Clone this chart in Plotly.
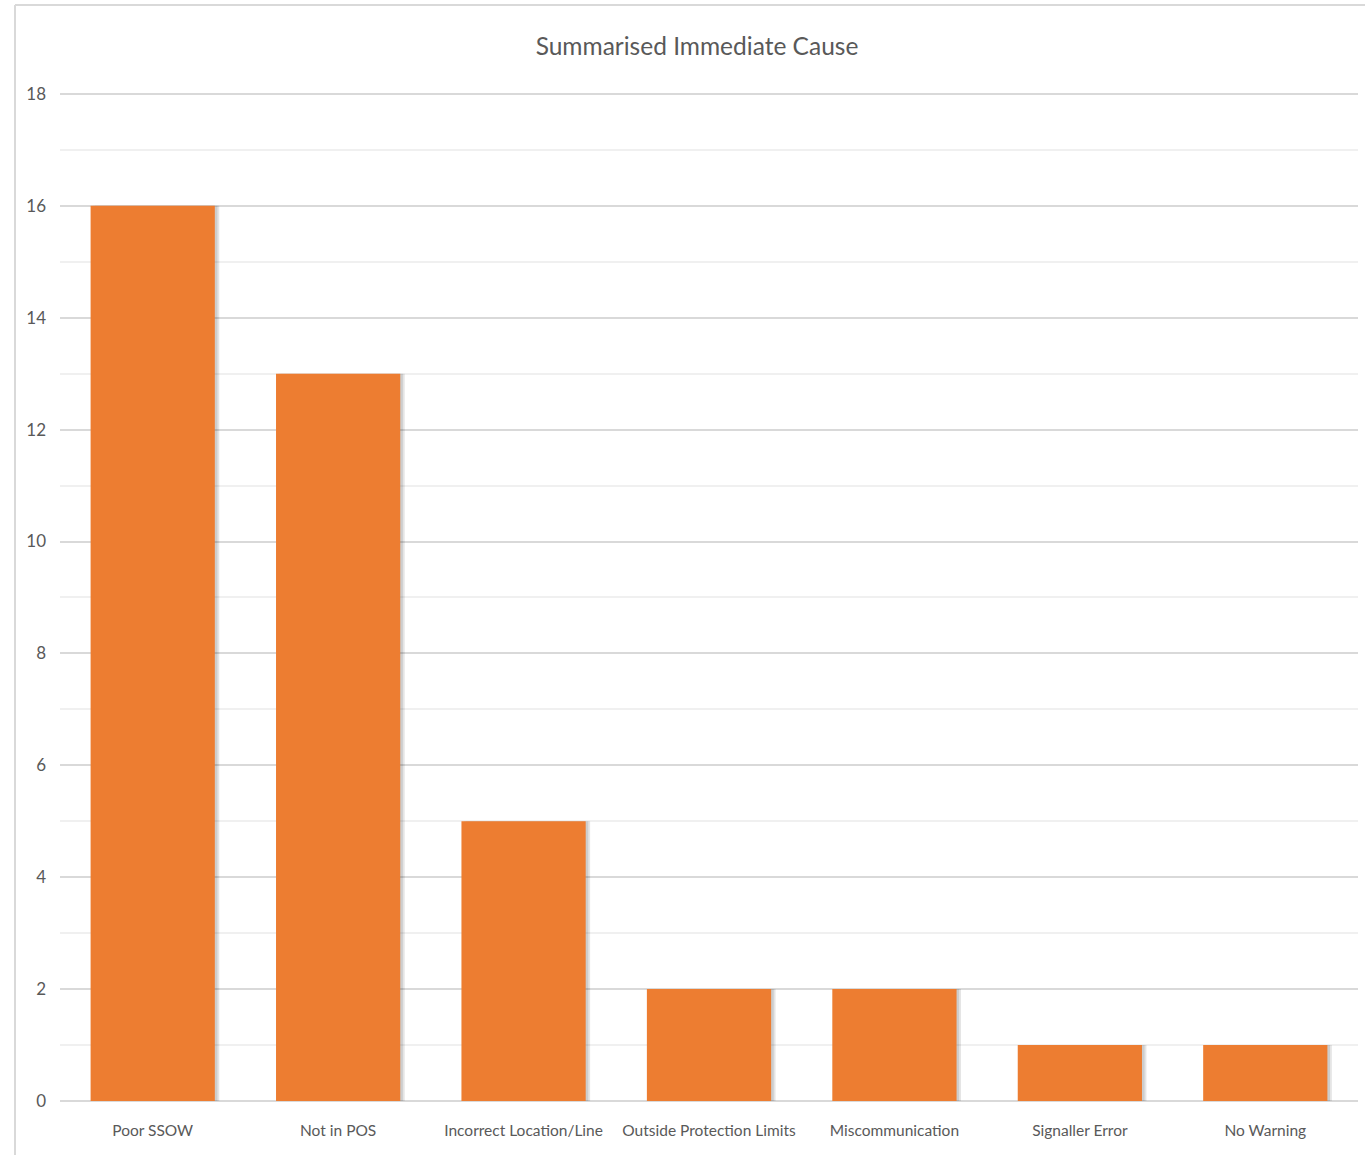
import plotly.graph_objects as go

categories = ["Poor SSOW", "Not in POS", "Incorrect Location/Line", "Outside Protection Limits",
              "Miscommunication", "Signaller Error", "No Warning"]
values = [16, 13, 5, 2, 2, 1, 1]
y_ticks = [0, 2, 4, 6, 8, 10, 12, 14, 16, 18]

W, H = 1365, 1155
L, R, T, B = 60, 7, 92, 54
pw, ph = W - L - R, H - T - B

FONT = "Lato, Open Sans, sans-serif"
fig = go.Figure()
# soft shadow
fig.add_trace(go.Bar(x=categories, y=values, marker=dict(color="rgba(0,0,0,0.10)", line=dict(width=0)),
                     width=0.67, offset=-0.335 + 0.024, hoverinfo="skip", showlegend=False))
fig.add_trace(go.Bar(x=categories, y=values, marker=dict(color="rgba(0,0,0,0.10)", line=dict(width=0)),
                     width=0.67, offset=-0.335 + 0.014, hoverinfo="skip", showlegend=False))
fig.add_trace(go.Bar(x=categories, y=values, marker=dict(color="#ED7D31", line=dict(width=0)),
                     width=0.67, offset=-0.335, showlegend=False))

fig.update_layout(
    width=W, height=H, barmode="overlay",
    margin=dict(l=L, r=R, t=T, b=B, autoexpand=False),
    paper_bgcolor="white", plot_bgcolor="white",
    title=dict(text="Summarised Immediate Cause", x=(697) / W, xanchor="center",
               y=1 - 46 / H, yanchor="middle",
               font=dict(family=FONT, size=24.5, color="#595959")),
    font=dict(family=FONT, color="#595959", size=16),
    xaxis=dict(showgrid=False, showline=False, ticks="", ticklabelstandoff=18, tickangle=0,
               tickfont=dict(size=15.5, color="#595959")),
    yaxis=dict(range=[0, 18.035], tickvals=y_ticks, showgrid=True, gridcolor="#d9d9d9", gridwidth=2,
               zeroline=True, zerolinecolor="#d9d9d9", zerolinewidth=2, showline=False,
               ticks="", ticklabelstandoff=13, tickfont=dict(size=17, color="#595959"),
               minor=dict(dtick=1, showgrid=True, gridcolor="#f0f0f0", gridwidth=2)),
    shapes=[
        dict(type="line", xref="paper", yref="paper", x0=(15 - L) / pw, x1=(W - L) / pw,
             y0=(H - B - 5) / ph, y1=(H - B - 5) / ph, line=dict(color="#d9d9d9", width=2)),
        dict(type="line", xref="paper", yref="paper", x0=(15 - L) / pw, x1=(15 - L) / pw,
             y0=(H - B - 5) / ph, y1=-B / ph, line=dict(color="#d9d9d9", width=2)),
    ],
)
fig.write_html("out.html")
